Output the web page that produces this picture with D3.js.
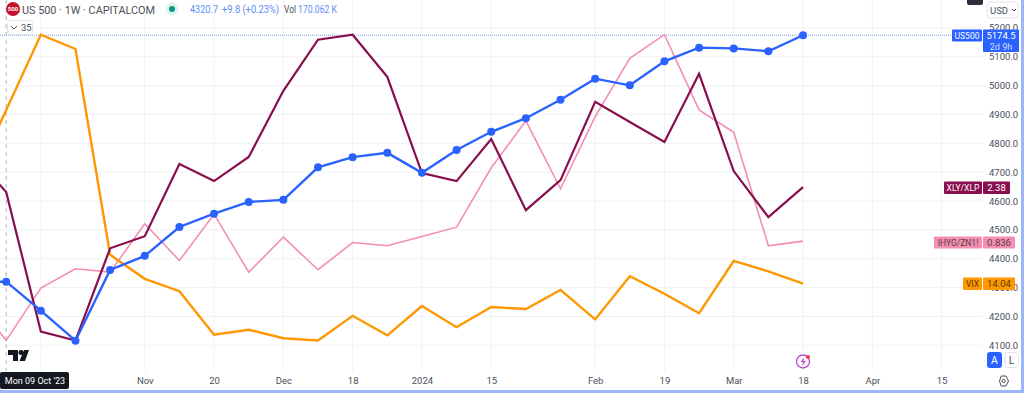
<!DOCTYPE html>
<html>
<head>
<meta charset="utf-8">
<script src="https://cdn.jsdelivr.net/npm/d3@7"></script>
<style>
  html, body { margin: 0; padding: 0; background: #fff; overflow: hidden; }
  svg { display: block; font-family: Roboto, sans-serif; }
</style>
</head>
<body>
<div id="chart"></div>
<script>
// weekly closes, first one sits just off the left edge
const weeks = ["2023-10-02","2023-10-09","2023-10-16","2023-10-23","2023-10-30","2023-11-06","2023-11-13","2023-11-20","2023-11-27","2023-12-04","2023-12-11","2023-12-18","2023-12-25","2024-01-01","2024-01-08","2024-01-15","2024-01-22","2024-01-29","2024-02-05","2024-02-12","2024-02-19","2024-02-26","2024-03-04","2024-03-11","2024-03-18"];
const us500 = [4318,4320.5,4220,4116,4361,4410,4510,4556,4597,4604,4717,4752,4767,4698,4777,4840,4887,4951,5024,5001,5084,5131.5,5129,5119,5174.5];
const xlyXlp = [2.414,2.375,2.236,2.227,2.319,2.331,2.403,2.386,2.410,2.476,2.527,2.532,2.490,2.394,2.386,2.428,2.357,2.387,2.465,2.445,2.425,2.493,2.396,2.350,2.380];
const ihygZn = [0.8087,0.7863,0.8125,0.8222,0.8205,0.8447,0.8263,0.8495,0.8205,0.838,0.8217,0.8353,0.8337,0.8383,0.843,0.8727,0.8962,0.8622,0.8983,0.9275,0.9393,0.9017,0.8905,0.8337,0.836];
const vix = [17.04,19.39,21.71,21.27,14.93,14.19,13.81,12.47,12.62,12.36,12.29,13.05,12.45,13.35,12.70,13.32,13.26,13.85,12.94,14.27,13.73,13.13,14.74,14.42,14.04];

const priceTicks = [5200,5100,5000,4900,4800,4700,4600,4500,4400,4300,4200,4100];
const timeTicks = ["2023-10-16","2023-11-06","2023-11-20","2023-12-04","2023-12-18","2024-01-01","2024-01-15","2024-02-05","2024-02-19","2024-03-04","2024-03-18","2024-04-01","2024-04-15"];
const timeLabels = ["","Nov","20","Dec","18","2024","15","Feb","19","Mar","18","Apr","15"];

const width = 1024, height = 393;
const paneRight = 983, paneBottom = 371;
const gridColor = "#f1f2f5", textColor = "#4b4f59";

const svg = d3.select("#chart").append("svg")
  .attr("width", width)
  .attr("height", height);

// scales
const parse = d3.utcParse("%Y-%m-%d");
const dates = weeks.map(parse);

const x = d3.scaleUtc()
  .domain([parse("2023-10-09"), parse("2024-04-15")])
  .range([6.2, 941.6]);

const y = d3.scaleLinear()
  .domain([4100, 5200])
  .range([345.3, 27.9]);

// overlays each fill the same band of the pane
const overlay = (values) => d3.scaleLinear()
  .domain(d3.extent(values))
  .range([340.5, 34.7]);

const yXly = overlay(xlyXlp);
const yIhyg = overlay(ihygZn);
const yVix = overlay(vix);

// grid
svg.append("g")
  .selectAll("line")
  .data(priceTicks)
  .join("line")
  .attr("x1", 0)
  .attr("x2", paneRight)
  .attr("y1", d => y(d))
  .attr("y2", d => y(d))
  .attr("stroke", gridColor);

svg.append("g")
  .selectAll("line")
  .data(timeTicks)
  .join("line")
  .attr("x1", d => x(parse(d)))
  .attr("x2", d => x(parse(d)))
  .attr("y1", 0)
  .attr("y2", paneBottom)
  .attr("stroke", gridColor);

// last price line
svg.append("line")
  .attr("x1", 0)
  .attr("x2", 952)
  .attr("y1", y(5174.5))
  .attr("y2", y(5174.5))
  .attr("stroke", "#7f9ff5")
  .attr("stroke-dasharray", "1 1");

// crosshair
svg.append("line")
  .attr("x1", x(dates[1]))
  .attr("x2", x(dates[1]))
  .attr("y1", 0)
  .attr("y2", paneBottom)
  .attr("stroke", "#b4b6bc")
  .attr("stroke-dasharray", "4 4");

// lines
const drawLine = (values, scale, color, w) => {
  const line = d3.line()
    .x((d, i) => x(dates[i]))
    .y(d => scale(d));
  svg.append("path")
    .attr("d", line(values))
    .attr("fill", "none")
    .attr("stroke", color)
    .attr("stroke-width", w)
    .attr("stroke-linejoin", "miter");
};

drawLine(ihygZn, yIhyg, "#f48fb1", 1.6);
drawLine(vix, yVix, "#ff9800", 2.4);
drawLine(xlyXlp, yXly, "#880e4f", 2.2);
drawLine(us500, y, "#2962ff", 2.4);

svg.append("g")
  .selectAll("circle")
  .data(us500.slice(1))
  .join("circle")
  .attr("cx", (d, i) => x(dates[i + 1]))
  .attr("cy", d => y(d))
  .attr("r", 4)
  .attr("fill", "#2962ff");

// price axis
const yAxis = svg.append("g")
  .attr("transform", `translate(${paneRight},0)`)
  .call(d3.axisRight(y).tickValues(priceTicks).tickFormat(d3.format(".1f")).tickSize(0).tickPadding(6));
yAxis.select(".domain").remove();
yAxis.selectAll("text")
  .attr("font-size", "9.5px")
  .attr("font-family", "Roboto, sans-serif")
  .attr("fill", textColor);

// time axis
const xAxis = svg.append("g")
  .attr("transform", `translate(0,${paneBottom})`)
  .call(d3.axisBottom(x)
    .tickValues(timeTicks.map(parse))
    .tickFormat((d, i) => timeLabels[i])
    .tickSize(0)
    .tickPadding(6));
xAxis.select(".domain").remove();
xAxis.selectAll("text")
  .attr("font-size", "9.5px")
  .attr("font-family", "Roboto, sans-serif")
  .attr("fill", textColor);

// series tags on the price scale
const tags = [
  { name: "US500", nameX: 952, value: "5174.5", valueW: 36, top: 29.5, h: 12, bg: "#2962ff", fg: "#fff" },
  { name: "XLY/XLP", nameX: 944, value: "2.38", valueW: 27, top: 181.5, h: 12.5, bg: "#880e4f", fg: "#fff" },
  { name: "IHYG/ZN1!", nameX: 934, value: "0.836", valueW: 32, top: 236.5, h: 12, bg: "#f48fb1", fg: "#5a3a45" },
  { name: "VIX", nameX: 963, value: "14.04", valueW: 32, top: 277.5, h: 12.5, bg: "#ff9800", fg: "#5a3c00" }
];

tags.forEach(t => {
  const g = svg.append("g");
  g.append("rect")
    .attr("x", t.nameX).attr("y", t.top)
    .attr("width", 982 - t.nameX).attr("height", t.h)
    .attr("rx", 1).attr("fill", t.bg);
  g.append("text")
    .attr("x", (t.nameX + 982) / 2).attr("y", t.top + t.h / 2 + 3)
    .attr("text-anchor", "middle").attr("font-size", "8.5px")
    .attr("fill", t.fg).text(t.name);
  g.append("rect")
    .attr("x", 983).attr("y", t.top)
    .attr("width", t.valueW)
    .attr("height", t.name === "US500" ? 22.5 : t.h)
    .attr("rx", 1).attr("fill", t.bg);
  g.append("text")
    .attr("x", 983 + t.valueW / 2).attr("y", t.top + 9.3)
    .attr("text-anchor", "middle").attr("font-size", "9.5px")
    .attr("fill", t.fg).text(t.value);
});

svg.append("text")
  .attr("x", 1001).attr("y", 49.5)
  .attr("text-anchor", "middle").attr("font-size", "9px")
  .attr("fill", "#d4defd").text("2d 9h");

// header
svg.append("circle").attr("cx", 13).attr("cy", 9).attr("r", 7).attr("fill", "#c8102e");
svg.append("text")
  .attr("x", 13).attr("y", 11)
  .attr("text-anchor", "middle").attr("font-size", "6px").attr("font-weight", 700)
  .attr("fill", "#fff").text("500");
svg.append("text")
  .attr("x", 22).attr("y", 14)
  .attr("font-size", "11.5px").attr("fill", textColor)
  .attr("textLength", 133).attr("lengthAdjust", "spacingAndGlyphs")
  .text("US 500 · 1W · CAPITALCOM");
svg.append("circle").attr("cx", 172).attr("cy", 9).attr("r", 6.5).attr("fill", "#dff3ef");
svg.append("circle").attr("cx", 172).attr("cy", 9).attr("r", 3).attr("fill", "#089981");

const headerText = (label, left, len, color) => {
  svg.append("text")
    .attr("x", left).attr("y", 13)
    .attr("font-size", "10.5px").attr("fill", color)
    .attr("textLength", len).attr("lengthAdjust", "spacingAndGlyphs")
    .text(label);
};
headerText("4320.7", 190, 28, "#5c8cf5");
headerText("+9.8 (+0.23%)", 222, 57, "#5c8cf5");
headerText("Vol", 284, 12, textColor);
headerText("170.062 K", 298, 39, "#5c8cf5");

// collapse button
svg.append("rect")
  .attr("x", 7.5).attr("y", 20.5).attr("width", 25).attr("height", 14)
  .attr("rx", 3).attr("fill", "#fff").attr("stroke", "#e0e3eb");
svg.append("path")
  .attr("d", "M11 26 L14 29 L17 26")
  .attr("fill", "none").attr("stroke", textColor).attr("stroke-width", 1);
svg.append("text")
  .attr("x", 21).attr("y", 31)
  .attr("font-size", "9.5px").attr("fill", textColor)
  .text("35");

// logo
svg.append("path")
  .attr("d", "M8 350 H18 V361 H13 V355 H8 Z M24 350 H29 L25 361 H19.5 Z")
  .attr("fill", "#131722");
svg.append("circle").attr("cx", 21).attr("cy", 352.5).attr("r", 2.5).attr("fill", "#131722");

// date tag under the crosshair
svg.append("rect")
  .attr("x", 0).attr("y", 372).attr("width", 69).attr("height", 17)
  .attr("rx", 2).attr("fill", "#131722");
svg.append("text")
  .attr("x", 35).attr("y", 384)
  .attr("text-anchor", "middle").attr("font-size", "9px")
  .attr("fill", "#fff").text("Mon 09 Oct '23");

// bolt badge
svg.append("circle")
  .attr("cx", 803).attr("cy", 361.5).attr("r", 6.5)
  .attr("fill", "#fff").attr("stroke", "#b84fd0").attr("stroke-width", 1.4);
svg.append("path")
  .attr("d", "M804.5 357 L800.5 362 H803 L802 366 L806 361 H803.5 Z")
  .attr("fill", "#b84fd0");
svg.append("circle").attr("cx", 808).attr("cy", 357).attr("r", 2).attr("fill", "#f23645");

// USD dropdown
svg.append("rect")
  .attr("x", 987).attr("y", 2).attr("width", 31).attr("height", 16)
  .attr("rx", 3).attr("fill", "#fff").attr("stroke", "#e0e3eb");
svg.append("text")
  .attr("x", 990).attr("y", 13.5)
  .attr("font-size", "9.5px").attr("fill", textColor)
  .text("USD");
svg.append("path")
  .attr("d", "M1012 9 L1014 11 L1016 9")
  .attr("fill", "none").attr("stroke", textColor).attr("stroke-width", 1);

// dark stub of the toolbar button at the top
svg.append("rect")
  .attr("x", 967).attr("y", -4).attr("width", 16).attr("height", 9)
  .attr("rx", 2).attr("fill", "#2a2e39");

// auto / log buttons
svg.append("rect")
  .attr("x", 987).attr("y", 352).attr("width", 15).attr("height", 16)
  .attr("rx", 3).attr("fill", "#2962ff");
svg.append("text")
  .attr("x", 994.5).attr("y", 364)
  .attr("text-anchor", "middle").attr("font-size", "10.5px")
  .attr("fill", "#fff").text("A");
svg.append("rect")
  .attr("x", 1005).attr("y", 352.5).attr("width", 13.5).attr("height", 15)
  .attr("rx", 3).attr("fill", "#fff").attr("stroke", "#e0e3eb");
svg.append("text")
  .attr("x", 1011.7).attr("y", 364)
  .attr("text-anchor", "middle").attr("font-size", "10.5px")
  .attr("fill", textColor).text("L");

// settings gear
svg.append("path")
  .attr("d", "M999.5 381 L1001.2 376 H1006 L1008.5 381 L1006 386 H1001.2 Z")
  .attr("fill", "none").attr("stroke", textColor).attr("stroke-width", 1);
svg.append("circle")
  .attr("cx", 1003.7).attr("cy", 381).attr("r", 1.6)
  .attr("fill", "none").attr("stroke", textColor);

// frame of the screenshot
svg.append("rect").attr("x", 1021).attr("y", 0).attr("width", 3).attr("height", height).attr("fill", "#9db5fb");
svg.append("rect").attr("x", 0).attr("y", 390).attr("width", width).attr("height", 3).attr("fill", "#9db5fb");
</script>
</body>
</html>
